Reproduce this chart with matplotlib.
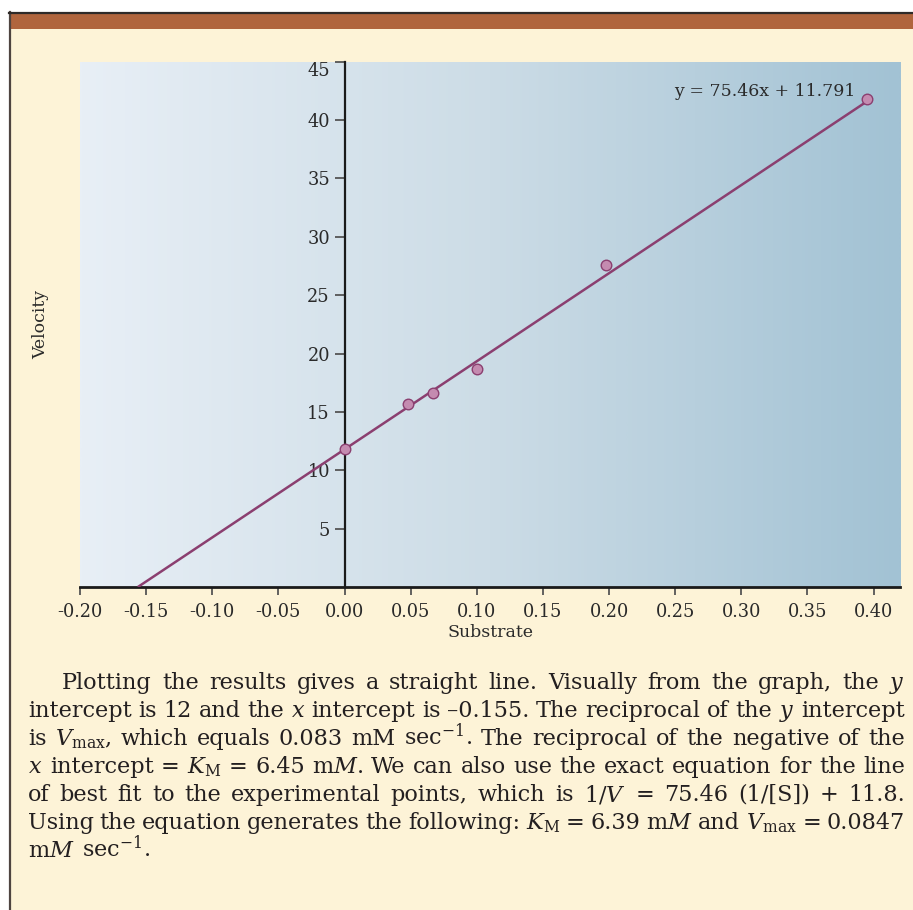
import matplotlib
matplotlib.use('Agg')
import matplotlib.pyplot as plt
import numpy as np
from matplotlib.patches import Rectangle
from matplotlib.lines import Line2D
from matplotlib.colors import LinearSegmentedColormap

# ---------------- data ----------------
substrate = [0.0, 0.048, 0.0667, 0.100, 0.198, 0.395]
velocity = [11.8, 15.7, 16.6, 18.7, 27.6, 41.8]
fit_slope = 75.46
fit_intercept = 11.791
equation_label = 'y = 75.46x + 11.791'

x_ticks = [-0.20, -0.15, -0.10, -0.05, 0.00, 0.05, 0.10, 0.15, 0.20, 0.25, 0.30, 0.35, 0.40]
x_tick_labels = ['-0.20', '-0.15', '-0.10', '-0.05', '0.00', '0.05', '0.10', '0.15',
                 '0.20', '0.25', '0.30', '0.35', '0.40']
y_ticks = [5, 10, 15, 20, 25, 30, 35, 40, 45]
y_tick_labels = ['5', '10', '15', '20', '25', '30', '35', '40', '45']
x_label = 'Substrate'
y_label = 'Velocity'

paragraph_lines = [
    'Plotting the results gives a straight line. Visually from the graph, the $y$',
    'intercept is 12 and the $x$ intercept is \u20130.155. The reciprocal of the $y$ intercept',
    'is $V_{\\mathrm{max}}$, which equals 0.083 mM sec$^{-1}$. The reciprocal of the negative of the',
    '$x$ intercept = $K_{\\mathrm{M}}$ = 6.45 m$M$. We can also use the exact equation for the line',
    'of best fit to the experimental points, which is 1/$V$ = 75.46 (1/[S]) + 11.8.',
    'Using the equation generates the following: $K_{\\mathrm{M}}$ = 6.39 m$M$ and $V_{\\mathrm{max}}$ = 0.0847',
    'm$M$ sec$^{-1}$.',
]

# ---------------- style ----------------
plt.rcParams['font.family'] = ['DejaVu Serif']
plt.rcParams['mathtext.fontset'] = 'dejavuserif'

W, H = 913, 910
fig = plt.figure(figsize=(W / 100, H / 100), dpi=100)
fig.patch.set_facecolor('white')


def fx(px):
    return px / W


def fy(py):
    return 1 - py / H


# panel background, header bar, border
fig.add_artist(Rectangle((fx(9), fy(910)), fx(913) - fx(9), fy(12) - fy(910),
                         transform=fig.transFigure, facecolor='#FDF3D7',
                         edgecolor='none', zorder=0))
fig.add_artist(Rectangle((fx(9), fy(29)), fx(913) - fx(9), fy(12) - fy(29),
                         transform=fig.transFigure, facecolor='#B0653D',
                         edgecolor='none', zorder=1))
fig.add_artist(Line2D([fx(9.5), fx(9.5)], [fy(12), fy(910)], transform=fig.transFigure,
                      color='#4E4440', lw=1.6, zorder=2))
fig.add_artist(Line2D([fx(9), fx(913)], [fy(12.5), fy(12.5)], transform=fig.transFigure,
                      color='#2E2A28', lw=1.6, zorder=2))

# ---------------- axes ----------------
ax = fig.add_axes([fx(80), fy(587), (900 - 80) / W, (587 - 61.7) / H])
ax.patch.set_visible(False)
cmap = LinearSegmentedColormap.from_list('bg', ['#E8EFF6', '#CCDCE6', '#A2C2D4'])
ax.imshow(np.linspace(0, 1, 512).reshape(1, -1), cmap=cmap, extent=[0, 1, 0, 1],
          transform=ax.transAxes, aspect='auto', zorder=0, interpolation='bilinear')

line_x = np.array([-fit_intercept / fit_slope, max(substrate)])
line_y = fit_slope * line_x + fit_intercept
ax.plot(line_x, line_y, color='#8B3F70', lw=1.8, zorder=3, solid_capstyle='butt')
ax.plot(substrate, velocity, 'o', ms=7.6, mfc='#C48BB0', mec='#8B3F70', mew=1.0,
        zorder=4, clip_on=False)

ax.annotate(equation_label, xy=(substrate[-1], velocity[-1]), xytext=(-8, 2),
            textcoords='offset points', ha='right', va='baseline',
            fontsize=12.5, color='#2A2A2A')

ax.set_xlim(-0.20, 0.42)
ax.set_ylim(0, 45)

for s in ('top', 'right'):
    ax.spines[s].set_visible(False)
ax.spines['left'].set_position(('data', 0))
ax.spines['left'].set_linewidth(1.6)
ax.spines['left'].set_color('#1A1A1A')
ax.spines['bottom'].set_linewidth(2.0)
ax.spines['bottom'].set_color('#1A1A1A')

ax.set_xticks(x_ticks, x_tick_labels)
ax.set_yticks(y_ticks, y_tick_labels)
ax.tick_params(axis='x', direction='out', length=6, width=1.3, color='#555555',
               pad=5.5, labelsize=12.8, labelcolor='#2A2A2A')
ax.tick_params(axis='y', direction='out', length=7, width=1.3, color='#555555',
               pad=3.5, labelsize=12.8, labelcolor='#2A2A2A')
ax.yaxis.get_major_ticks()[-1].label1.set_va('top')

ax.set_xlabel(x_label, fontsize=12.5, color='#2A2A2A', labelpad=2)
ax.set_ylabel(y_label, fontsize=12.5, color='#2A2A2A', va='center')
ax.yaxis.set_label_coords((40.5 - 80) / 820, 0.5)

# ---------------- justified paragraph ----------------
renderer = fig.canvas.get_renderer()
fs0 = 18.0
para_words = [ln.split(' ') for ln in paragraph_lines]
texts = [[fig.text(0, 0, w, fontsize=fs0, family='DejaVu Serif', color='#231F20',
                   ha='left', va='baseline', zorder=5) for w in words]
         for words in para_words]
left_px = [62] + [28] * (len(paragraph_lines) - 1)
right_px = 905


def measure():
    return [[t.get_window_extent(renderer).width for t in row] for row in texts]


widths = measure()
space0 = 0.318 * fs0 * 100 / 72
scale = min((right_px - left_px[i]) / (sum(widths[i]) + (len(widths[i]) - 1) * space0 * 0.8)
            for i in range(len(texts) - 1))
fs = min(fs0 * scale, 20.0)
for row in texts:
    for t in row:
        t.set_fontsize(fs)
widths = measure()
space = 0.318 * fs * 100 / 72

for i, row in enumerate(texts):
    base = 689 + 28 * i
    n = len(row)
    if i < len(texts) - 1 and n > 1:
        gap = (right_px - left_px[i] - sum(widths[i])) / (n - 1)
    else:
        gap = space
    x = left_px[i]
    for t, w in zip(row, widths[i]):
        t.set_position((fx(x), fy(base)))
        x += w + gap

fig.savefig('out.png', dpi=100, facecolor=fig.get_facecolor())
